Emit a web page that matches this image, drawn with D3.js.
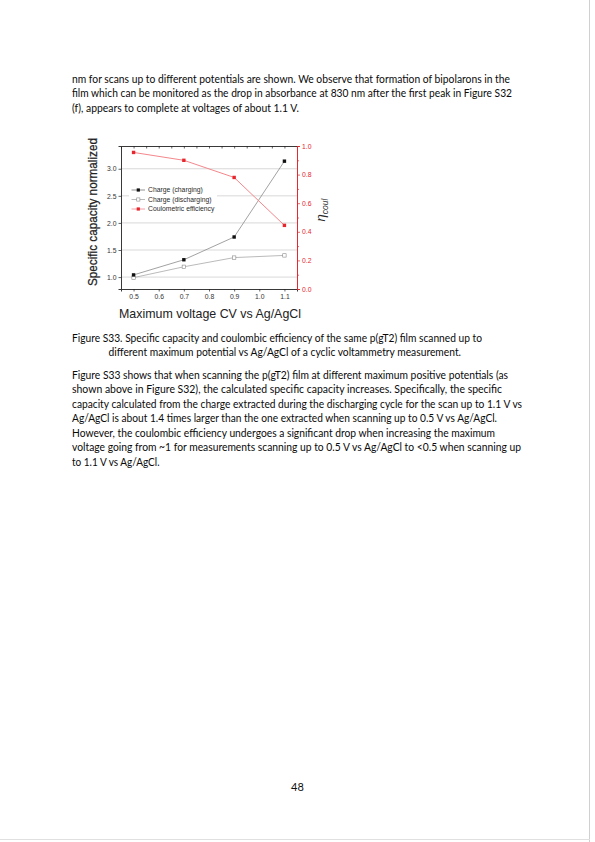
<!DOCTYPE html>
<html><head><meta charset="utf-8">
<script src="https://cdn.jsdelivr.net/npm/d3@7"></script>
<style>html,body{margin:0;padding:0;background:#fff;}svg{display:block;}</style>
</head><body>
<script>
// ---------- data ----------
const voltages = [0.5, 0.7, 0.9, 1.1];
const chargeCharging = [1.04, 1.32, 1.74, 3.14];
const chargeDischarging = [0.99, 1.19, 1.36, 1.40];
const coulombicEff = [0.955, 0.90, 0.78, 0.445];
const xTicks = [0.5, 0.6, 0.7, 0.8, 0.9, 1.0, 1.1];
const yLeftTicks = [1.0, 1.5, 2.0, 2.5, 3.0];
const yRightTicks = [0.0, 0.2, 0.4, 0.6, 0.8, 1.0];
const legendLabels = ["Charge (charging)", "Charge (discharging)", "Coulometric efficiency"];

const para1 = [
  "nm for scans up to different potentials are shown. We observe that formation of bipolarons in the",
  "film which can be monitored as the drop in absorbance at 830 nm after the first peak in Figure S32",
  "(f), appears to complete at voltages of about 1.1 V."
];
const caption = [
  "Figure S33. Specific capacity and coulombic efficiency of the same p(gT2) film scanned up to",
  "different maximum potential vs Ag/AgCl of a cyclic voltammetry measurement."
];
const para2 = [
  "Figure S33 shows that when scanning the p(gT2) film at different maximum positive potentials (as",
  "shown above in Figure S32), the calculated specific capacity increases. Specifically, the specific",
  "capacity calculated from the charge extracted during the discharging cycle for the scan up to 1.1 V vs",
  "Ag/AgCl is about 1.4 times larger than the one extracted when scanning up to 0.5 V vs Ag/AgCl.",
  "However, the coulombic efficiency undergoes a significant drop when increasing the maximum",
  "voltage going from ~1 for measurements scanning up to 0.5 V vs Ag/AgCl to <0.5 when scanning up",
  "to 1.1 V vs Ag/AgCl."
];

// ---------- page ----------
const W = 595, H = 842;
const svg = d3.select("body").append("svg").attr("width", W).attr("height", H);
svg.append("rect").attr("width", W).attr("height", H).attr("fill", "#fff");
svg.append("line").attr("x1", 589.5).attr("x2", 589.5).attr("y1", 0).attr("y2", H).attr("stroke", "#d0d0d0").attr("stroke-width", 1);
svg.append("line").attr("x1", 0).attr("x2", 590).attr("y1", 839.5).attr("y2", 839.5).attr("stroke", "#e0e0e0").attr("stroke-width", 1);

const bodyFont = "Lato, 'Open Sans', sans-serif";
function textLines(lines, opts) {
  lines.forEach((t, i) => {
    const o = opts[i];
    const el = svg.append("text")
      .attr("x", o.x).attr("y", o.y)
      .attr("font-family", bodyFont).attr("font-size", 11)
      .attr("fill", "#0a0a0a").text(t);
    if (o.w) el.attr("textLength", o.w).attr("lengthAdjust", "spacingAndGlyphs");
  });
}
textLines(para1, [
  {x: 72, y: 82.5, w: 438},
  {x: 72, y: 97, w: 440},
  {x: 72, y: 111.5, w: 227}
]);
textLines(caption, [
  {x: 72, y: 341.5, w: 410},
  {x: 108.5, y: 355.5, w: 352.5}
]);
const p2w = [436, 430, 450, 425, 423, 449, 87.5];
textLines(para2, p2w.map((w, i) => ({x: 72, y: 378.5 + i * 14.5, w})));
svg.append("text").attr("x", 297.5).attr("y", 791).attr("text-anchor", "middle")
  .attr("font-family", bodyFont).attr("font-size", 11).attr("fill", "#111").text("48");

// ---------- chart ----------
const L = 121, R = 297, T = 146, B = 289;
const x = d3.scaleLinear().domain([0.45, 1.15]).range([L, R]);
const yL = d3.scaleLinear().domain([0.78, 3.42]).range([B, T]);
const yR = d3.scaleLinear().domain([0, 1]).range([B, T]);
const g = svg.append("g");
const tickFont = "'Liberation Sans', Arial, sans-serif";
const red = "#e8262d";

// gridlines
g.selectAll(".grid").data(yLeftTicks).join("line")
  .attr("x1", L).attr("x2", R).attr("y1", d => yL(d)).attr("y2", d => yL(d))
  .attr("stroke", "#cfcfcf").attr("stroke-width", 0.8);

// axes
const axBottom = g.append("g").attr("transform", `translate(0,${B})`)
  .call(d3.axisBottom(x).tickValues(xTicks).tickSize(2.5).tickPadding(3).tickFormat(d3.format(".1f")));
const axTop = g.append("g").attr("transform", `translate(0,${T})`)
  .call(d3.axisTop(x).tickValues(d3.range(0.5, 1.151, 0.05)).tickSize(-2.5).tickFormat(""));
const axLeft = g.append("g").attr("transform", `translate(${L},0)`)
  .call(d3.axisLeft(yL).tickValues(yLeftTicks).tickSize(2.5).tickPadding(2).tickFormat(d3.format(".1f")));
const axRightMinor = g.append("g").attr("transform", `translate(${R},0)`)
  .call(d3.axisRight(yR).tickValues(d3.range(0.1, 1.0, 0.2)).tickSize(2).tickFormat(""));
const axRight = g.append("g").attr("transform", `translate(${R},0)`)
  .call(d3.axisRight(yR).tickValues(yRightTicks).tickSize(3).tickPadding(2).tickFormat(d3.format(".1f")));

[axBottom, axTop, axLeft].forEach(a => {
  a.select(".domain").attr("stroke", "#222").attr("stroke-width", 0.9);
  a.selectAll(".tick line").attr("stroke", "#222").attr("stroke-width", 0.7);
  a.selectAll("text").attr("font-family", tickFont).attr("font-size", 6.8).attr("fill", "#333");
});
[axRight, axRightMinor].forEach(a => {
  a.select(".domain").attr("stroke", red).attr("stroke-width", 0.9);
  a.selectAll(".tick line").attr("stroke", red).attr("stroke-width", 0.7);
  a.selectAll("text").attr("font-family", tickFont).attr("font-size", 6.8).attr("fill", red);
});

// series
const seriesL = (vals) => d3.line().x((d, i) => x(voltages[i])).y(d => yL(d))(vals);
g.append("path").attr("d", seriesL(chargeDischarging)).attr("fill", "none").attr("stroke", "#a8a8a8").attr("stroke-width", 0.8);
g.append("path").attr("d", seriesL(chargeCharging)).attr("fill", "none").attr("stroke", "#8a8a8a").attr("stroke-width", 0.8);
g.append("path").attr("d", d3.line().x((d, i) => x(voltages[i])).y(d => yR(d))(coulombicEff))
  .attr("fill", "none").attr("stroke", "#f4878c").attr("stroke-width", 1);

const ms = 3.4;
g.selectAll(".dis").data(chargeDischarging).join("rect")
  .attr("x", (d, i) => x(voltages[i]) - ms / 2).attr("y", d => yL(d) - ms / 2)
  .attr("width", ms).attr("height", ms).attr("fill", "#fff").attr("stroke", "#8a8a8a").attr("stroke-width", 0.6);
g.selectAll(".chg").data(chargeCharging).join("rect")
  .attr("x", (d, i) => x(voltages[i]) - ms / 2).attr("y", d => yL(d) - ms / 2)
  .attr("width", ms).attr("height", ms).attr("fill", "#111");
g.selectAll(".ce").data(coulombicEff).join("rect")
  .attr("x", (d, i) => x(voltages[i]) - ms / 2).attr("y", d => yR(d) - ms / 2)
  .attr("width", ms).attr("height", ms).attr("fill", red);

// legend
const lg = g.append("g");
lg.append("rect").attr("x", 129).attr("y", 185).attr("width", 88).attr("height", 28).attr("fill", "#fff");
const legendStyles = [
  {line: "#777", fill: "#111", stroke: "none"},
  {line: "#a8a8a8", fill: "#fff", stroke: "#8a8a8a"},
  {line: "#f4878c", fill: red, stroke: "none"}
];
legendLabels.forEach((lab, i) => {
  const yy = 190 + i * 9.5;
  const s = legendStyles[i];
  lg.append("line").attr("x1", 131.5).attr("x2", 145).attr("y1", yy).attr("y2", yy).attr("stroke", s.line).attr("stroke-width", 0.8);
  lg.append("rect").attr("x", 138.3 - 1.6).attr("y", yy - 1.6).attr("width", 3.2).attr("height", 3.2)
    .attr("fill", s.fill).attr("stroke", s.stroke).attr("stroke-width", 0.6);
  lg.append("text").attr("x", 148).attr("y", yy + 2.4).attr("font-family", tickFont).attr("font-size", 6.8)
    .attr("fill", "#2a2a2a").text(lab);
});

// axis titles
svg.append("text").attr("transform", "translate(97,212) rotate(-90)").attr("text-anchor", "middle")
  .attr("font-family", tickFont).attr("font-size", 12.2).attr("fill", "#222")
  .attr("stroke", "#222").attr("stroke-width", 0.25)
  .attr("textLength", 148).attr("lengthAdjust", "spacingAndGlyphs")
  .text("Specific capacity normalized");
svg.append("text").attr("x", 210).attr("y", 318).attr("text-anchor", "middle")
  .attr("font-family", tickFont).attr("font-size", 12.4).attr("fill", "#222")
  .attr("textLength", 182).attr("lengthAdjust", "spacingAndGlyphs")
  .text("Maximum voltage CV vs Ag/AgCl");
const eta = svg.append("text").attr("transform", "translate(325,210) rotate(-90)").attr("text-anchor", "middle")
  .attr("font-family", tickFont).attr("font-style", "italic").attr("fill", "#2a2a2a");
eta.append("tspan").attr("font-size", 13).text("η");
eta.append("tspan").attr("font-size", 8.5).attr("dy", 3).text("coul");
</script>
</body></html>
